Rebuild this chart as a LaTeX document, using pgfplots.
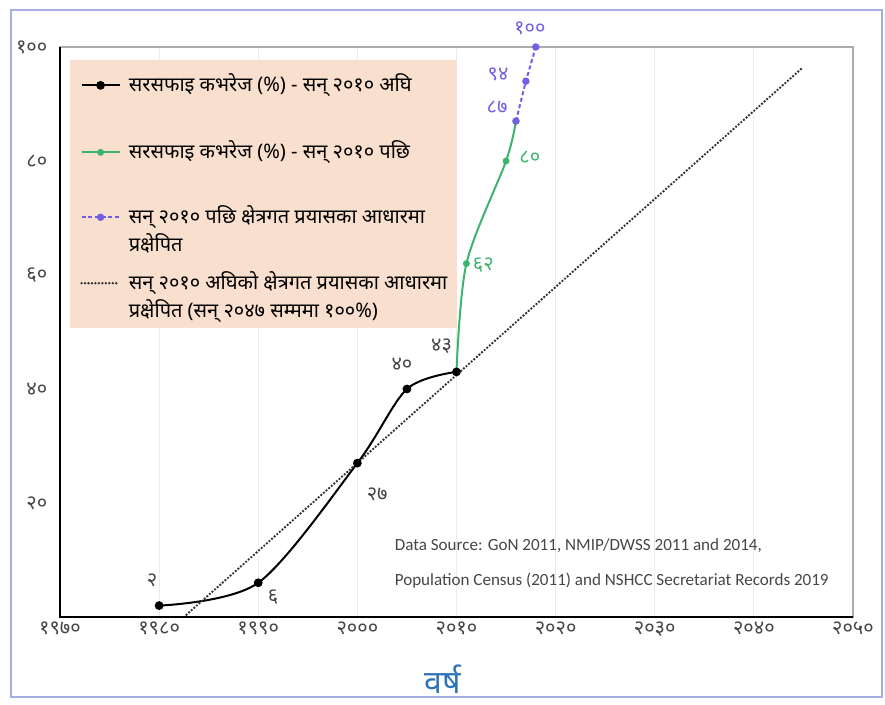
\documentclass[border=0pt]{standalone}
\usepackage{fontspec}
\usepackage{pgfplots}
\pgfplotsset{compat=1.18}
\setmainfont{Noto Sans}[Script=Devanagari]
\newfontfamily\carlito{Carlito}

\definecolor{framec}{RGB}{165,175,225}
\definecolor{peach}{RGB}{248,223,206}
\definecolor{greenc}{RGB}{60,180,110}
\definecolor{purplec}{RGB}{115,95,230}
\definecolor{labelblue}{RGB}{45,115,185}
\definecolor{txtgray}{RGB}{70,70,70}

\pgfplotsset{
    leg1/.style={legend image code/.code={
        \draw[mark repeat=2,mark phase=2,##1,mark indices={2}]
            plot coordinates {(0cm,4.5pt) (0.5cm,4.5pt) (1cm,4.5pt)};}},
    leg2/.style={legend image code/.code={
        \draw[mark repeat=2,mark phase=2,##1,mark indices={2}]
            plot coordinates {(0cm,25.5pt) (0.5cm,25.5pt) (1cm,25.5pt)};}},
}

\begin{document}
\begin{tikzpicture}[x=0.75pt,y=0.75pt]
% whole picture and outer frame, in pixels from the axis corner
\path (-60,-88) rectangle (825,617);
\draw[framec, line width=1.3pt] (-49,-80) rectangle (822,607);

\begin{axis}[
    at={(0,0)}, anchor=south west,
    scale only axis, width=594.75pt, height=427.5pt,
    xmin=1970, xmax=2050, ymin=0, ymax=100,
    xtick={1970,1980,...,2050},
    xticklabels={१९७०,१९८०,१९९०,२०००,२०१०,२०२०,२०३०,२०४०,२०५०},
    ytick={0,20,40,60,80,100},
    yticklabels={,२०,४०,६०,८०,१००},
    tick style={draw=none},
    xmajorgrids, grid style={gray!15, line width=0.8pt},
    axis line style={gray!65, line width=1.6pt},
    ticklabel style={font=\fontsize{15}{17}\selectfont, text=txtgray},
    yticklabel style={xshift=-6pt},
    xlabel={वर्ष},
    xlabel style={at={(axis description cs:0.483,-0.109)}, anchor=center,
        font=\fontsize{24}{27}\selectfont\bfseries, text=labelblue},
    clip=false,
    legend style={at={(0.0126,0.977)}, anchor=north west,
        fill=peach, draw=none, font=\fontsize{15}{21}\selectfont,
        row sep=13.5pt, column sep=6pt, inner xsep=7.5pt, inner ysep=6.5pt,
        nodes={inner sep=0pt},
        cells={anchor=base west, align=left}},
]
\addplot[black, line width=1.5pt, smooth, mark=*, mark size=2.5pt, leg1]
    coordinates {(1980,2) (1990,6) (2000,27) (2005,40) (2010,43)};
\addlegendentry[text height=16.75pt, text depth=24.75pt]{सरसफाइ कभरेज (\%) - सन् २०१० अघि}

\addplot[greenc, line width=1.5pt, smooth, mark=*, mark size=1.8pt,
    mark indices={2,3,4}, leg1]
    coordinates {(2010,43) (2011,62) (2015,80) (2016,87)};
\addlegendentry[text height=12pt, text depth=21.75pt]{सरसफाइ कभरेज (\%) - सन् २०१० पछि}

\addplot[purplec, line width=1.5pt, dash pattern=on 3pt off 2pt,
    mark=*, mark size=2pt, mark options={solid}, leg2]
    coordinates {(2016,87) (2017,94) (2018,100)};
\addlegendentry{सन् २०१० पछि क्षेत्रगत प्रयासका आधारमा\\प्रक्षेपित}

\addplot[black!80, line width=2pt, line cap=round, dash pattern=on 0pt off 2.6pt, leg2]
    coordinates {(1982.5,0) (2045,96.5)};
\addlegendentry{सन् २०१० अघिको क्षेत्रगत प्रयासका आधारमा\\प्रक्षेपित (सन् २०४७ सम्ममा १००\%)}

% heavy left and bottom axis lines
\draw[black, line width=2.2pt] (rel axis cs:0,1) -- (rel axis cs:0,0) -- (rel axis cs:1,0);

% value labels
\begin{scope}[font=\fontsize{15}{17}\selectfont]
\node[text=txtgray] at (axis cs:1979.3,6.5) {२};
\node[text=txtgray] at (axis cs:1991.5,3.5) {६};
\node[text=txtgray] at (axis cs:2002,21.6) {२७};
\node[text=txtgray] at (axis cs:2004.5,44.4) {४०};
\node[text=txtgray] at (axis cs:2008.5,47.5) {४३};
\node[text=greenc] at (axis cs:2012.7,61.8) {६२};
\node[text=greenc] at (axis cs:2017.4,80.7) {८०};
\node[text=purplec] at (axis cs:2014.1,89.5) {८७};
\node[text=purplec] at (axis cs:2014.2,95.1) {९४};
\node[text=purplec] at (axis cs:2017.4,103.3) {१००};
\end{scope}

% data source note
\node[anchor=west, font=\carlito\fontsize{12.8}{15}\selectfont, text=txtgray]
    at (axis cs:2003.3,12.6) {Data Source: GoN 2011, NMIP/DWSS 2011 and 2014,};
\node[anchor=west, font=\carlito\fontsize{12.8}{15}\selectfont, text=txtgray]
    at (axis cs:2003.3,6.3) {Population Census (2011) and NSHCC Secretariat Records 2019};
\end{axis}
\end{tikzpicture}
\end{document}
